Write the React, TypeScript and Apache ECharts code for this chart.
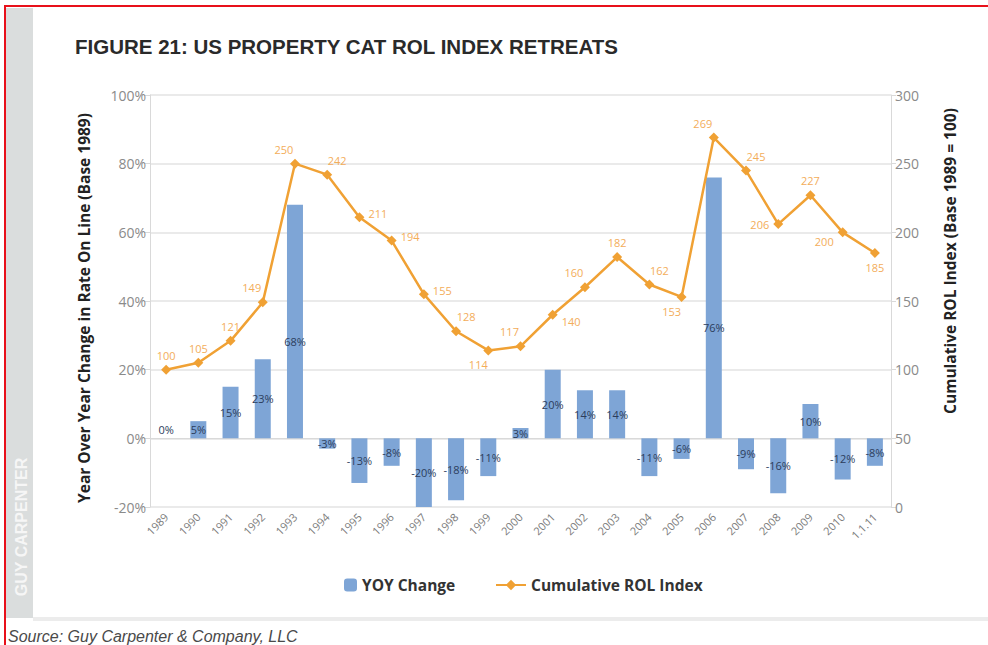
import React, { useEffect, useRef } from 'react';
import * as echarts from 'echarts';

const categories = ['1989', '1990', '1991', '1992', '1993', '1994', '1995', '1996', '1997', '1998', '1999', '2000', '2001', '2002', '2003', '2004', '2005', '2006', '2007', '2008', '2009', '2010', '1.1.11'];
const yoyChange = [0, 5, 15, 23, 68, -3, -13, -8, -20, -18, -11, 3, 20, 14, 14, -11, -6, 76, -9, -16, 10, -12, -8];
const rolIndex = [100, 105, 121, 149, 250, 242, 211, 194, 155, 128, 114, 117, 140, 160, 182, 162, 153, 269, 245, 206, 227, 200, 185];
const seriesNames = ['YOY Change', 'Cumulative ROL Index'];
const titleText = 'FIGURE 21: US PROPERTY CAT ROL INDEX RETREATS';
const leftAxisTitle = 'Year Over Year Change in Rate On Line (Base 1989)';
const rightAxisTitle = 'Cumulative ROL Index (Base 1989 = 100)';
const sourceText = 'Source: Guy Carpenter & Company, LLC';
const brandText = 'GUY CARPENTER';

// label placement codes for the line labels (styling only)
const rolLabelPlacement = ['t', 't', 't', 'tl', 'tl', 'tr', 'r', 'r', 'r', 'tr', 'bl', 'tl', 'rb', 'tl', 't', 'tr', 'bl', 'tl', 'tr', 'l', 't', 'lb', 'b'];
const placementMap: Record<string, any> = {
  t: { position: 'top', offset: [0, 0] },
  tl: { position: 'top', offset: [-11, 0] },
  tr: { position: 'top', offset: [10, 0] },
  r: { position: 'right', offset: [0, -4] },
  rb: { position: 'right', offset: [0, 7] },
  l: { position: 'left', offset: [0, 0] },
  lb: { position: 'left', offset: [0, 9] },
  bl: { position: 'bottom', offset: [-10, 0] },
  b: { position: 'bottom', offset: [0, 0] },
};

const BLUE = '#7ea5d6';
const ORANGE = '#f0a134';
const FONT = "'Open Sans', 'Liberation Sans', sans-serif";
const LEGEND_TEXT = { color: '#333', fontSize: 15.5, fontWeight: 'bold', fontFamily: "'Open Sans', sans-serif" };

export default function App() {
  const ref = useRef<HTMLDivElement>(null);
  useEffect(() => {
    if (!ref.current) return;
    const chart = echarts.init(ref.current, undefined, { renderer: 'svg' });
    const barData = yoyChange.map((v) => {
      const item: any = { value: v };
      if (v === 0) item.label = { position: 'top', distance: 3 };
      else if (v > 50) item.label = { offset: [0, 20] };
      return item;
    });
    const lineData = rolIndex.map((v, i) => ({
      value: v,
      label: { ...placementMap[rolLabelPlacement[i]] },
    }));
    chart.setOption({
      animation: false,
      backgroundColor: '#ffffff',
      textStyle: { fontFamily: FONT },
      grid: { left: 150, right: 97, top: 95, bottom: 138, containLabel: false },
      legend: [
        {
          data: [seriesNames[0]],
          left: 339,
          top: 572,
          itemWidth: 13,
          itemHeight: 13,
          itemGap: 6,
          textStyle: LEGEND_TEXT,
        },
        {
          data: [seriesNames[1]],
          left: 490,
          top: 572,
          itemWidth: 30,
          itemHeight: 13,
          textStyle: LEGEND_TEXT,
        },
      ],
      xAxis: {
        type: 'category',
        data: categories,
        boundaryGap: true,
        axisLine: { show: true, lineStyle: { color: '#d9d9d9' } },
        axisTick: { show: false },
        axisLabel: { rotate: 45, color: '#7a7a7a', fontSize: 11, margin: 8, interval: 0 },
      },
      yAxis: [
        {
          type: 'value',
          min: -20,
          max: 100,
          interval: 20,
          position: 'left',
          axisLine: { show: true, lineStyle: { color: '#d9d9d9' } },
          axisTick: { show: true, length: 6, lineStyle: { color: '#d9d9d9' } },
          axisLabel: { formatter: '{value}%', color: '#8a8a8a', fontSize: 14, margin: 4 },
          splitLine: { show: true, lineStyle: { color: '#e3e3e3', width: 1.5 } },
        },
        {
          type: 'value',
          min: 0,
          max: 300,
          interval: 50,
          position: 'right',
          axisLine: { show: true, lineStyle: { color: '#d9d9d9' } },
          axisTick: { show: true, length: 5, lineStyle: { color: '#d9d9d9' } },
          axisLabel: { color: '#8a8a8a', fontSize: 14, margin: 4 },
          splitLine: { show: false },
        },
      ],
      series: [
        {
          name: seriesNames[0],
          type: 'bar',
          yAxisIndex: 0,
          data: barData,
          barWidth: 16,
          itemStyle: { color: BLUE },
          label: {
            show: true,
            position: 'inside',
            formatter: '{c}%',
            color: '#2c3d5c',
            fontSize: 11,
          },
          z: 1,
        },
        {
          name: seriesNames[1],
          type: 'line',
          yAxisIndex: 1,
          data: lineData,
          symbol: 'diamond',
          symbolSize: 10,
          lineStyle: { color: ORANGE, width: 2.5 },
          itemStyle: { color: ORANGE },
          label: {
            show: true,
            color: '#f3ad5a',
            fontSize: 11,
            distance: 4,
          },
          z: 3,
        },
      ],
      graphic: [
        { type: 'rect', shape: { x: 6, y: 8, width: 27, height: 610 }, style: { fill: '#dadddd' }, silent: true },
        { type: 'rect', shape: { x: 33, y: 617, width: 955, height: 4 }, style: { fill: '#ececec' }, silent: true },
        { type: 'rect', shape: { x: 4, y: 5, width: 984, height: 2 }, style: { fill: '#e8101a' }, silent: true },
        { type: 'rect', shape: { x: 4, y: 5, width: 2, height: 640 }, style: { fill: '#e8101a' }, silent: true },
        {
          type: 'text', x: 21, y: 527, rotation: Math.PI / 2,
          style: { text: brandText, fill: '#f6f6f6', font: "bold 16px 'Liberation Sans', sans-serif", textAlign: 'center', textVerticalAlign: 'middle' },
        },
        {
          type: 'text', x: 75, y: 46,
          style: { text: titleText, fill: '#2a2a2a', font: "bold 20.5px 'Liberation Sans', sans-serif", textAlign: 'left', textVerticalAlign: 'middle' },
        },
        {
          type: 'text', x: 8, y: 636,
          style: { text: sourceText, fill: '#4a4a4a', font: "italic 16px 'Liberation Sans', sans-serif", textAlign: 'left', textVerticalAlign: 'middle' },
        },
        {
          type: 'text', x: 84, y: 308, rotation: Math.PI / 2,
          style: { text: leftAxisTitle, fill: '#222', font: "bold 15.5px 'Open Sans', sans-serif", textAlign: 'center', textVerticalAlign: 'middle' },
        },
        {
          type: 'text', x: 950, y: 261, rotation: Math.PI / 2,
          style: { text: rightAxisTitle, fill: '#222', font: "bold 15.5px 'Open Sans', sans-serif", textAlign: 'center', textVerticalAlign: 'middle' },
        },
      ],
    });
    return () => chart.dispose();
  }, []);
  return (
    <div
      ref={ref}
      style={{ position: 'absolute', left: 0, top: 0, width: 988, height: 645, background: '#fff' }}
    />
  );
}
